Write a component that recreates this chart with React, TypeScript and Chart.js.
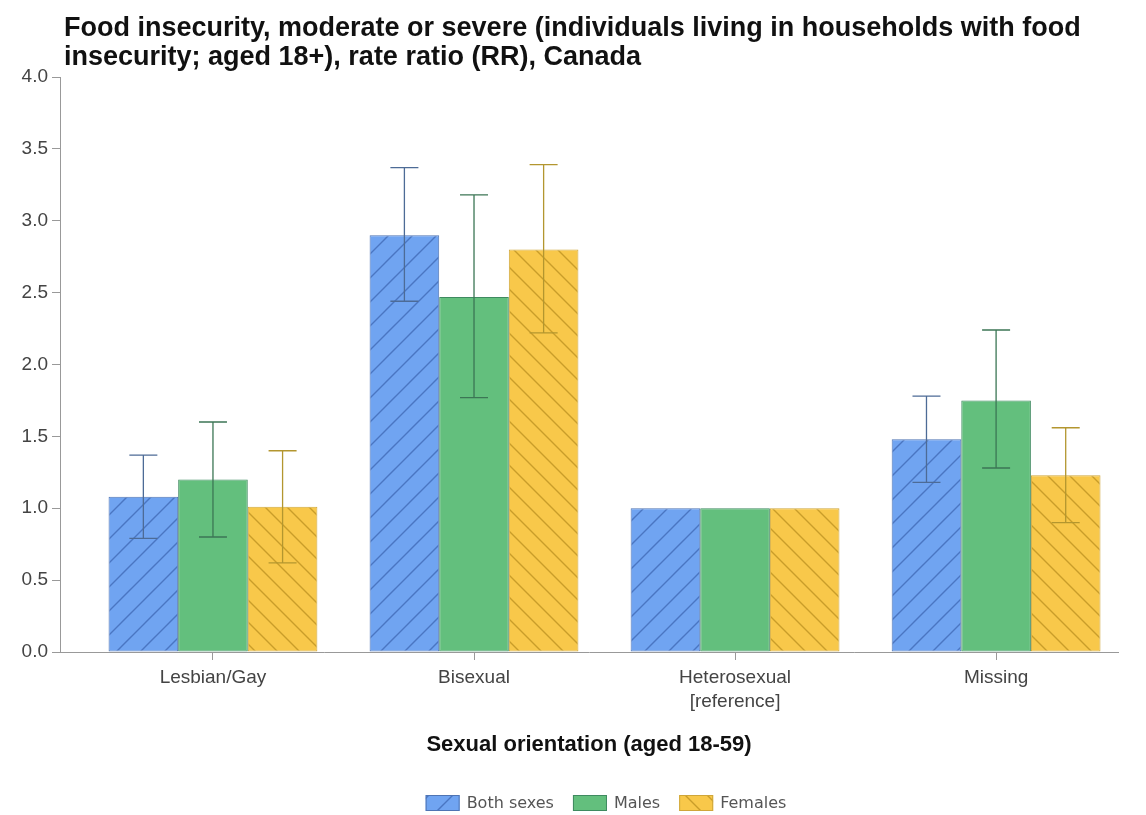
import React, { useEffect, useRef } from "react";
import { Chart, registerables } from "chart.js";

Chart.register(...registerables);

const titleLines = [
  "Food insecurity, moderate or severe (individuals living in households with food",
  "insecurity; aged 18+), rate ratio (RR), Canada",
];
const xAxisTitle = "Sexual orientation (aged 18-59)";
const categories: (string | string[])[] = ["Lesbian/Gay", "Bisexual", ["Heterosexual", "[reference]"], "Missing"];
const categoryIndex = [0, 1, 2, 3];
const seriesNames = ["Both sexes", "Males", "Females"];

const bothValues = [1.08, 2.9, 1.0, 1.48];
const bothLower = [0.79, 2.44, null, 1.18];
const bothUpper = [1.37, 3.37, null, 1.78];

const maleValues = [1.2, 2.47, 1.0, 1.75];
const maleLower = [0.8, 1.77, null, 1.28];
const maleUpper = [1.6, 3.18, null, 2.24];

const femaleValues = [1.01, 2.8, 1.0, 1.23];
const femaleLower = [0.62, 2.22, null, 0.9];
const femaleUpper = [1.4, 3.39, null, 1.56];

const yTicks = [0, 0.5, 1, 1.5, 2, 2.5, 3, 3.5, 4];

const FONT = "'Liberation Sans', Arial, sans-serif";

function makeHatch(fill: string, line: string, dir: "fwd" | "back", size: number) {
  const c = document.createElement("canvas");
  c.width = size;
  c.height = size;
  const g = c.getContext("2d")!;
  g.fillStyle = fill;
  g.fillRect(0, 0, size, size);
  g.strokeStyle = line;
  g.lineWidth = 1.4;
  g.beginPath();
  if (dir === "fwd") {
    g.moveTo(-2, size + 2);
    g.lineTo(size + 2, -2);
    g.moveTo(-2, 2);
    g.lineTo(2, -2);
    g.moveTo(size - 2, size + 2);
    g.lineTo(size + 2, size - 2);
  } else {
    g.moveTo(-2, -2);
    g.lineTo(size + 2, size + 2);
    g.moveTo(size - 2, -2);
    g.lineTo(size + 2, 2);
    g.moveTo(-2, size - 2);
    g.lineTo(2, size + 2);
  }
  g.stroke();
  return g.createPattern(c, "repeat")!;
}

export default function App() {
  const ref = useRef<HTMLCanvasElement>(null);

  useEffect(() => {
    const canvas = ref.current!;
    const ctx = canvas.getContext("2d")!;

    const bluePat = makeHatch("#70a4f1", "#4a76c2", "fwd", 24);
    const yellowPat = makeHatch("#f8c84a", "#c99d2a", "back", 22);

    const errLower = [bothLower, maleLower, femaleLower];
    const errUpper = [bothUpper, maleUpper, femaleUpper];
    const errColors = ["#4d6b96", "#3c7655", "#b3962f"];

    const toPoints = (vals: number[]) => vals.map((v, i) => ({ x: categoryIndex[i], y: v }));

    const fills = [bluePat, "#63bf7d", yellowPat];
    const borders = ["#4f74b3", "#3f8a60", "#cfa63a"];

    const titlePlugin = {
      id: "titleDraw",
      afterDraw(chart: any) {
        const c = chart.ctx;
        c.save();
        c.fillStyle = "#111";
        c.font = `bold 27px ${FONT}`;
        c.textBaseline = "alphabetic";
        c.textAlign = "left";
        c.fillText(titleLines[0], 64, 36);
        c.fillText(titleLines[1], 64, 65);
        c.restore();
      },
    };

    const errorPlugin = {
      id: "errorBars",
      afterDatasetsDraw(chart: any) {
        const c = chart.ctx;
        const ys = chart.scales.y;
        c.save();
        for (let d = 0; d < chart.data.datasets.length; d++) {
          const meta = chart.getDatasetMeta(d);
          c.strokeStyle = errColors[d];
          c.lineWidth = 1.3;
          meta.data.forEach((bar: any, i: number) => {
            const lo = errLower[d][i];
            const hi = errUpper[d][i];
            if (lo == null || hi == null) return;
            const x = bar.x;
            const y1 = ys.getPixelForValue(lo);
            const y2 = ys.getPixelForValue(hi);
            const cap = 14;
            c.beginPath();
            c.moveTo(x, y1);
            c.lineTo(x, y2);
            c.moveTo(x - cap, y1);
            c.lineTo(x + cap, y1);
            c.moveTo(x - cap, y2);
            c.lineTo(x + cap, y2);
            c.stroke();
          });
        }
        c.restore();
      },
    };

    const legendPlugin = {
      id: "legendDraw",
      afterDraw(chart: any) {
        const c = chart.ctx;
        c.save();
        c.font = `16px 'DejaVu Sans', sans-serif`;
        const boxW = 34;
        const boxH = 16;
        const gapText = 7;
        const gapItem = 19;
        const widths = seriesNames.map((n) => boxW + gapText + c.measureText(n).width);
        const total = widths.reduce((a, b) => a + b, 0) + gapItem * (seriesNames.length - 1);
        let x = 606 - total / 2;
        const cy = 803;
        seriesNames.forEach((name, i) => {
          c.fillStyle = fills[i];
          c.fillRect(x, cy - boxH / 2, boxW, boxH);
          c.strokeStyle = borders[i];
          c.lineWidth = 1;
          c.strokeRect(x + 0.5, cy - boxH / 2 + 0.5, boxW - 1, boxH - 1);
          c.fillStyle = "#555";
          c.textBaseline = "middle";
          c.textAlign = "left";
          c.fillText(name, x + boxW + gapText, cy + 1);
          x += widths[i] + gapItem;
        });
        c.restore();
      },
    };

    const chart = new Chart(ctx, {
      type: "bar",
      data: {
        datasets: [
          {
            label: seriesNames[0],
            data: toPoints(bothValues) as any,
            backgroundColor: bluePat as any,
            borderColor: borders[0],
            borderWidth: 1,
            borderSkipped: false,
          },
          {
            label: seriesNames[1],
            data: toPoints(maleValues) as any,
            backgroundColor: fills[1] as any,
            borderColor: borders[1],
            borderWidth: 1,
            borderSkipped: false,
          },
          {
            label: seriesNames[2],
            data: toPoints(femaleValues) as any,
            backgroundColor: yellowPat as any,
            borderColor: borders[2],
            borderWidth: 1,
            borderSkipped: false,
          },
        ],
      },
      options: {
        responsive: false,
        animation: false,
        datasets: { bar: { categoryPercentage: 0.8, barPercentage: 1.0 } },
        layout: { padding: { top: 77, left: 0, right: 28, bottom: 0 } },
        plugins: {
          legend: { display: false },
          title: { display: false },
          tooltip: { enabled: false },
        },
        scales: {
          x: {
            type: "linear",
            offset: false,
            min: -0.586,
            max: 3.467,
            afterBuildTicks: (scale: any) => {
              scale.ticks = categoryIndex.map((v) => ({ value: v }));
            },
            afterFit: (scale: any) => {
              scale.height = 815 - 652;
            },
            grid: { offset: false, drawOnChartArea: false, tickLength: 8, color: "#999", tickColor: "#999" },
            border: { display: true, color: "#999", width: 1 },
            ticks: {
              autoSkip: false,
              maxRotation: 0,
              padding: 6,
              color: "#444",
              font: { family: FONT, size: 19, lineHeight: 1.26 },
              callback: (v: any) => categories[Math.round(Number(v))] as any,
            },
            title: {
              display: true,
              text: xAxisTitle,
              color: "#111",
              font: { family: FONT, size: 22, weight: "bold", lineHeight: 1.2 },
              padding: { top: 0, bottom: 57 },
            },
          },
          y: {
            min: 0,
            max: 4,
            afterBuildTicks: (scale: any) => {
              scale.ticks = yTicks.map((v) => ({ value: v }));
            },
            afterFit: (scale: any) => {
              scale.width = 60;
            },
            grid: { drawOnChartArea: false, tickLength: 8, color: "#999", tickColor: "#999" },
            border: { display: true, color: "#999", width: 1 },
            ticks: {
              padding: 4,
              color: "#444",
              font: { family: FONT, size: 19 },
              callback: (v: any) => Number(v).toFixed(1),
            },
          },
        },
      },
      plugins: [titlePlugin, errorPlugin, legendPlugin],
    } as any);

    return () => chart.destroy();
  }, []);

  return (
    <div style={{ position: "absolute", left: 0, top: 0, width: 1146, height: 815, background: "#fff" }}>
      <canvas ref={ref} width={1146} height={815} style={{ display: "block" }} />
    </div>
  );
}
